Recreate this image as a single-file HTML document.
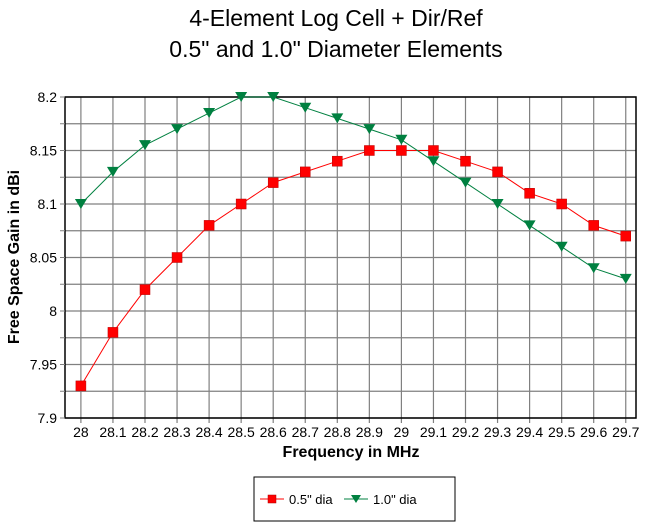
<!DOCTYPE html>
<html><head><meta charset="utf-8"><style>
body{margin:0;background:#fff;font-family:"Liberation Sans",sans-serif}
</style></head><body>
<svg width="645" height="526" xmlns="http://www.w3.org/2000/svg" font-family="Liberation Sans, sans-serif">
<text x="336" y="26" font-size="23" text-anchor="middle">4-Element Log Cell + Dir/Ref</text>
<text x="336" y="57" font-size="23" text-anchor="middle">0.5" and 1.0" Diameter Elements</text>
<g id="grid"></g>
<rect x="65" y="97" width="571" height="321" fill="none" stroke="#000" stroke-width="1.5"/>
<g id="yt"></g>
<g id="xt"></g>
<g id="series"></g>
<text x="0" y="0" font-size="16" font-weight="bold" text-anchor="middle" transform="translate(19,257) rotate(-90)">Free Space Gain in dBi</text>
<text x="351" y="457" font-size="16" font-weight="bold" text-anchor="middle">Frequency in MHz</text>
<g>
<rect x="254" y="477" width="201" height="44" fill="#fff" stroke="#000"/>
<g>
<line x1="260" y1="499" x2="284" y2="499" stroke="red"/>
<rect x="268" y="495" width="8" height="8" fill="red" stroke="#a00" stroke-width="0.5"/>
<text x="289" y="504" font-size="13">0.5" dia</text></g>
<g>
<line x1="344" y1="499" x2="368" y2="499" stroke="#008040"/>
<path d="M351,495 L361,495 L356,503 Z" fill="#008040"/>
<text x="373" y="504" font-size="13">1.0" dia</text></g>
</g>
</svg>
<script>
const categories=["28","28.1","28.2","28.3","28.4","28.5","28.6","28.7","28.8","28.9","29","29.1","29.2","29.3","29.4","29.5","29.6","29.7"];
const seriesSmall=[7.93,7.98,8.02,8.05,8.08,8.10,8.12,8.13,8.14,8.15,8.15,8.15,8.14,8.13,8.11,8.10,8.08,8.07];
const seriesLarge=[8.10,8.13,8.155,8.17,8.185,8.20,8.20,8.19,8.18,8.17,8.16,8.14,8.12,8.10,8.08,8.06,8.04,8.03];
const yTickLabels=["7.9","7.95","8","8.05","8.1","8.15","8.2"];
const yMin=7.9,yMax=8.2;
const NS="http://www.w3.org/2000/svg";
function xS(i){return 80.9+i*32.05;}
function yS(v){return 418-(v-yMin)/(yMax-yMin)*321;}
function mk(t,a,p){const e=document.createElementNS(NS,t);for(const k in a)e.setAttribute(k,a[k]);p.appendChild(e);return e;}
const grid=document.getElementById('grid'),yt=document.getElementById('yt'),xt=document.getElementById('xt'),ser=document.getElementById('series');
for(let k=0;k<=12;k++){const v=yMin+k*0.025,y=yS(v);
 const l=mk('line',{x1:65,x2:636,y1:y,y2:y,stroke:'#808080','stroke-width':1.2},grid);
 
 
 const t=mk('line',{x1:60,x2:65,y1:y,y2:y,stroke:'#808080'},yt);
 
 }
yTickLabels.forEach(s=>{const tx=mk('text',{x:57,y:yS(parseFloat(s))+5,'font-size':14,'text-anchor':'end'},yt);tx.textContent=s;
 
 });
categories.forEach((c,i)=>{const x=xS(i);
 const l=mk('line',{x1:x,x2:x,y1:97,y2:423,stroke:'#808080','stroke-width':1.2},grid);
 
 
 const tx=mk('text',{x:x,y:437,'font-size':14,'text-anchor':'middle'},xt);tx.textContent=c;
 
 });
function line(vals,col,name){const p=mk('polyline',{points:vals.map((v,i)=>xS(i)+','+yS(v)).join(' '),fill:'none',stroke:col,'stroke-width':1},ser);
 
 }
line(seriesSmall,'red','series-0.5');
line(seriesLarge,'#008040','series-1.0');
seriesSmall.forEach((v,i)=>{const r=mk('rect',{x:xS(i)-5,y:yS(v)-5,width:10,height:10,fill:'red',stroke:'#b00','stroke-width':0.5},ser);
 
 });
seriesLarge.forEach((v,i)=>{const x=xS(i),y=yS(v);const p=mk('path',{d:`M${x-6},${y-5} L${x+6},${y-5} L${x},${y+5} Z`,fill:'#008040'},ser);
 
 });
</script>
</body></html>
